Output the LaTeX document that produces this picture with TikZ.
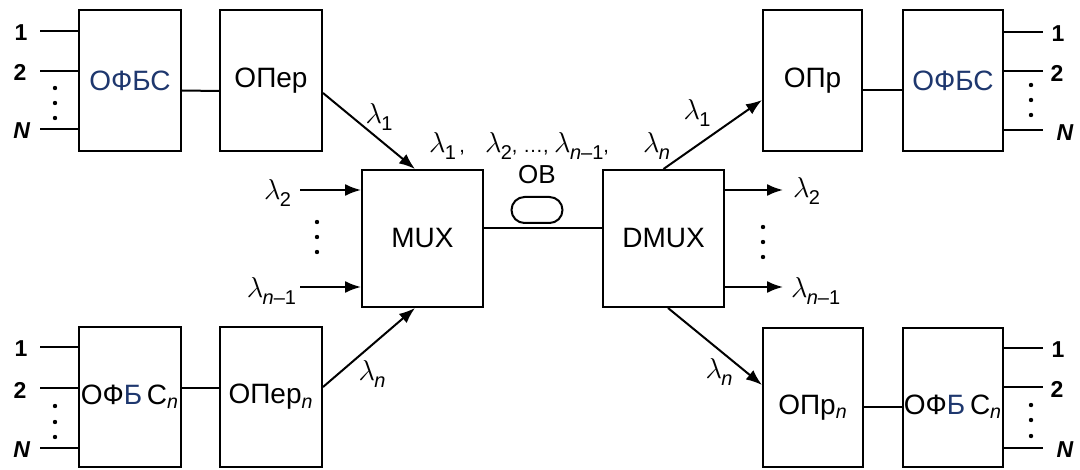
\documentclass[tikz,border=0pt]{standalone}
\usepackage{fontspec}
\setmainfont{Liberation Sans}
\usetikzlibrary{arrows.meta}
\definecolor{ofbs}{RGB}{30,55,110}
\newcommand\lsub[1]{{\fontsize{15pt}{15pt}\selectfont$\lambda$}\kern-0.3pt\raisebox{-3.5pt}{\fontsize{10pt}{10pt}\selectfont#1}}
\begin{document}
\begin{tikzpicture}[x=0.5pt,y=-0.5pt,line width=1pt,
  box/.style={draw,line width=1pt,minimum width=51pt,minimum height=70.5pt,inner sep=0pt,font=\fontsize{14pt}{14pt}\selectfont},
  bigbox/.style={box,minimum width=60.5pt,minimum height=68.5pt},
  lowtext/.style={text height=20pt,text depth=3pt},
  arr/.style={-{Latex[length=8pt,width=6pt]}},
  num/.style={font=\fontsize{11.5pt}{11.5pt}\selectfont\bfseries,inner sep=0pt},
  lab/.style={inner sep=0pt},
  dot/.style={radius=1.1pt}]
\useasboundingbox (0,0) rectangle (1080,470);
% boxes
\node[box] (ofbsA) at (130,80.5) {\color{ofbs}ОФБС};
\node[box] (operA) at (271,81) {ОПер};
\node[box,minimum height=70pt] (ofbsB) at (130,397) {ОФ{\color{ofbs}Б}\,С\textsubscript{\textit{n}}};
\node[box,minimum height=70pt] (operB) at (271,397) {ОПер\textsubscript{\textit{n}}};
\node[bigbox] (mux) at (422.5,238.5) {MUX};
\node[bigbox] (dmux) at (663.5,238.5) {DMUX};
\node[box,minimum width=49.5pt] (oprA) at (812.5,81) {ОПр};
\node[box,minimum width=50pt] (ofbsC) at (953,81) {\color{ofbs}ОФБС};
\node[box,minimum width=50pt,minimum height=69.5pt,lowtext] (oprB) at (813,397.5) {ОПр\textsubscript{\textit{n}}};
\node[box,minimum width=50pt,minimum height=69.5pt,lowtext] (ofbsD) at (953,397.5) {ОФ{\color{ofbs}Б}\,С\textsubscript{\textit{n}}};
% left top inputs
\node[num] (nA1) at (21,33) {1};
\node[num] (nA2) at (20,72) {2};
\node[num] (nAN) at (22,131) {\textit{N}};
\coordinate (iA1) at (40,31);
\coordinate (iA2) at (40,71);
\coordinate (iAN) at (40,129);
\draw (iA1) -- (iA1 -| ofbsA.west);
\draw (iA2) -- (iA2 -| ofbsA.west);
\draw (iAN) -- (iAN -| ofbsA.west);
\foreach \y in {88,103,118} \fill (55,\y) circle[dot];
% left bottom inputs
\node[num] (nB1) at (21,349) {1};
\node[num] (nB2) at (20,390) {2};
\node[num] (nBN) at (22,450) {\textit{N}};
\coordinate (iB1) at (40,347);
\coordinate (iB2) at (40,388);
\coordinate (iBN) at (40,448);
\draw (iB1) -- (iB1 -| ofbsB.west);
\draw (iB2) -- (iB2 -| ofbsB.west);
\draw (iBN) -- (iBN -| ofbsB.west);
\foreach \y in {406,422,437} \fill (55,\y) circle[dot];
% right top outputs
\node[num] (nC1) at (1058,34) {1};
\node[num] (nC2) at (1057,73) {2};
\node[num] (nCN) at (1065,133) {\textit{N}};
\coordinate (oC1) at (1043,32);
\coordinate (oC2) at (1043,71);
\coordinate (oCN) at (1043,130);
\draw (oC1 -| ofbsC.east) -- (oC1);
\draw (oC2 -| ofbsC.east) -- (oC2);
\draw (oCN -| ofbsC.east) -- (oCN);
\foreach \y in {85,100,115} \fill (1031,\y) circle[dot];
% right bottom outputs
\node[num] (nD1) at (1058,350) {1};
\node[num] (nD2) at (1057,389) {2};
\node[num] (nDN) at (1065,450) {\textit{N}};
\coordinate (oD1) at (1043,348);
\coordinate (oD2) at (1043,387);
\coordinate (oDN) at (1043,448);
\draw (oD1 -| ofbsD.east) -- (oD1);
\draw (oD2 -| ofbsD.east) -- (oD2);
\draw (oDN -| ofbsD.east) -- (oDN);
\foreach \y in {405,420,436} \fill (1031,\y) circle[dot];
% links between boxes
\draw ([yshift=-5pt]ofbsA.east) -- ([yshift=-5pt]operA.west);
\draw ([yshift=4.5pt]ofbsB.east) -- ([yshift=4.5pt]operB.west);
\draw ([yshift=-4.5pt]oprA.east) -- ([yshift=-4.5pt]ofbsC.west);
\draw ([yshift=-4.75pt]oprB.east) -- ([yshift=-4.75pt]ofbsD.west);
% into MUX
\draw[arr] ([yshift=-6pt]operA.east) -- ([xshift=-3.75pt]mux.north);
\draw[arr] ([yshift=5pt]operB.east) -- ([xshift=-3.75pt]mux.south);
\coordinate (l2) at (300,190);
\coordinate (ln1) at (300,287);
\draw[arr] (l2) -- (l2 -| mux.west);
\draw[arr] (ln1) -- (ln1 -| mux.west);
\foreach \y in {222,237,252} \fill (317,\y) circle[dot];
\node[lab,anchor=base east] (tl2) at (292,199) {\lsub{2}};
\node[lab,anchor=base east] (tln1) at (297,297) {\lsub{\textit{n}–1}};
\node[lab,anchor=base] (tA) at (379,124) {\lsub{1}};
\node[lab,anchor=base] (tB) at (372,380) {\lsub{\textit{n}}};
% fibre
\draw ([yshift=5.25pt]mux.east) -- ([yshift=5.25pt]dmux.west);
\node[draw,rounded corners=6.5pt,minimum width=25.5pt,minimum height=13pt,inner sep=0pt] (ob) at (537,210) {};
\node[lab,font=\fontsize{13pt}{13pt}\selectfont] (obt) at (537,175) {ОВ};
\node[lab,anchor=base west] (ls1) at (428,153) {\lsub{1}\,,};
\node[lab,anchor=base west] (ls2) at (484,153) {\lsub{2}, …, \lsub{\textit{n}–1},};
\node[lab,anchor=base west] (ls3) at (642,153) {\lsub{\textit{n}}};
% out of DMUX
\draw[arr] (dmux.north) -- ([yshift=-9.5pt]oprA.west);
\draw[arr] ([xshift=2.25pt]dmux.south) -- ([yshift=6.25pt]oprB.west);
\coordinate (o2) at (783,190);
\coordinate (on1) at (783,287);
\draw[arr] (o2 -| dmux.east) -- (o2);
\draw[arr] (on1 -| dmux.east) -- (on1);
\foreach \y in {227,242,257} \fill (763,\y) circle[dot];
\node[lab,anchor=base west] (to2) at (792,198) {\lsub{2}};
\node[lab,anchor=base west] (ton1) at (790,297) {\lsub{\textit{n}–1}};
\node[lab,anchor=base] (tC) at (697,120) {\lsub{1}};
\node[lab,anchor=base] (tD) at (719,378) {\lsub{\textit{n}}};
\end{tikzpicture}
\end{document}
